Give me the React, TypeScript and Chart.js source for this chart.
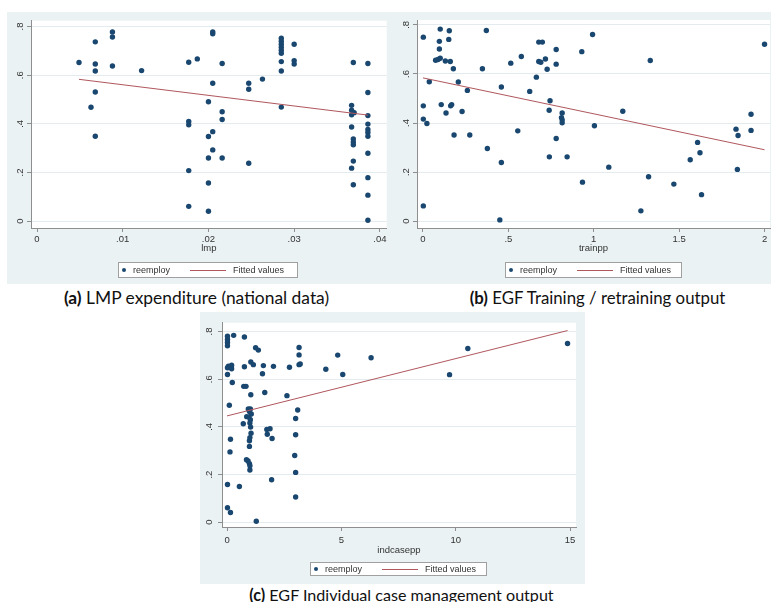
import React, { useEffect, useRef } from "react";
import { Chart, registerables } from "chart.js";

Chart.register(...registerables);

const NAVY = "#1a476f";
const MAROON = "#b0575d";
const BG = "#eaf2f3";
const AXIS = "#8e8e8e";
const GRID = "#e3ebee";
const TEXT = "#333333";
const FONT = "'Liberation Sans', Arial, sans-serif";

// shared y axis (reemploy)
const yTicks = [0, 0.2, 0.4, 0.6, 0.8];
const yTickLabels = ["0", ".2", ".4", ".6", ".8"];
const seriesLabel = "reemploy";
const fitLabel = "Fitted values";

// (a) LMP expenditure
const lmpTicks = [0, 0.01, 0.02, 0.03, 0.04];
const lmpTickLabels = ["0", ".01", ".02", ".03", ".04"];
const lmpX = [
  0.0049, 0.0068, 0.0068, 0.0068, 0.0068, 0.0063, 0.0068, 0.0088, 0.0088, 0.0088,
  0.0122, 0.0177, 0.0187, 0.0177, 0.0177, 0.0177, 0.0177, 0.0205, 0.0205, 0.0216,
  0.0205, 0.02, 0.0216, 0.0216, 0.0205, 0.02, 0.0205, 0.02, 0.0216, 0.02,
  0.02, 0.0247, 0.0247, 0.0247, 0.0263, 0.0285, 0.0285, 0.0285, 0.0285, 0.0285,
  0.0285, 0.0285, 0.0285, 0.0285, 0.03, 0.03, 0.03, 0.0369, 0.0386, 0.0386,
  0.0367, 0.0367, 0.037, 0.0367, 0.0386, 0.0367, 0.0386, 0.0386, 0.0386, 0.0386,
  0.0369, 0.0369, 0.0369, 0.0386, 0.0369, 0.0367, 0.0369, 0.0386, 0.0386, 0.0386,
];
const lmpY = [
  0.652, 0.737, 0.646, 0.617, 0.531, 0.468, 0.349, 0.778, 0.757, 0.638,
  0.619, 0.653, 0.667, 0.41, 0.396, 0.208, 0.061, 0.778, 0.77, 0.648,
  0.567, 0.491, 0.45, 0.418, 0.368, 0.348, 0.293, 0.26, 0.26, 0.157,
  0.041, 0.567, 0.542, 0.238, 0.584, 0.752, 0.74, 0.727, 0.715, 0.703,
  0.69, 0.656, 0.617, 0.469, 0.727, 0.66, 0.646, 0.652, 0.648, 0.529,
  0.476, 0.456, 0.446, 0.437, 0.434, 0.387, 0.399, 0.377, 0.365, 0.349,
  0.338, 0.325, 0.314, 0.279, 0.247, 0.218, 0.15, 0.179, 0.107, 0.004,
];
const lmpFitX = [0.0049, 0.0386];
const lmpFitY = [0.583, 0.436];

// (b) EGF training / retraining output
const trainTicks = [0, 0.5, 1, 1.5, 2];
const trainTickLabels = ["0", ".5", "1", "1.5", "2"];
const trainX = [
  0.002, 0.002, 0.002, 0.023, 0.002, 0.037, 0.101, 0.096, 0.096, 0.074,
  0.088, 0.101, 0.131, 0.107, 0.135, 0.154, 0.151, 0.16, 0.178, 0.162,
  0.168, 0.182, 0.207, 0.229, 0.26, 0.274, 0.348, 0.371, 0.377, 0.459,
  0.459, 0.45, 0.514, 0.555, 0.576, 0.625, 0.664, 0.678, 0.699, 0.678,
  0.69, 0.717, 0.727, 0.744, 0.739, 0.74, 0.78, 0.78, 0.78, 0.815,
  0.811, 0.815, 0.815, 0.844, 0.93, 0.934, 0.993, 1.004, 1.088, 1.17,
  1.331, 1.321, 1.276, 1.469, 1.565, 1.608, 1.622, 1.631, 1.833, 1.845,
  1.841, 1.921, 1.921, 2.0,
];
const trainY = [
  0.75, 0.47, 0.416, 0.398, 0.062, 0.568, 0.783, 0.733, 0.702, 0.656,
  0.659, 0.664, 0.653, 0.475, 0.441, 0.776, 0.741, 0.651, 0.621, 0.47,
  0.475, 0.351, 0.567, 0.447, 0.533, 0.351, 0.621, 0.777, 0.296, 0.547,
  0.239, 0.005, 0.644, 0.368, 0.671, 0.529, 0.587, 0.73, 0.73, 0.651,
  0.648, 0.661, 0.619, 0.491, 0.452, 0.262, 0.7, 0.64, 0.337, 0.441,
  0.422, 0.413, 0.401, 0.262, 0.691, 0.159, 0.761, 0.389, 0.22, 0.448,
  0.655, 0.181, 0.042, 0.151, 0.25, 0.321, 0.279, 0.108, 0.375, 0.349,
  0.211, 0.436, 0.37, 0.721,
];
const trainFitX = [0.0, 2.0];
const trainFitY = [0.584, 0.291];

// (c) EGF individual case management output
const caseTicks = [0, 5, 10, 15];
const caseTickLabels = ["0", "5", "10", "15"];
const caseX = [
  0.02, 0.02, 0.02, 0.02, 0.29, 0.76, 0.06, 0.2, 0.02, 0.2,
  0.02, 0.23, 0.1, 0.15, 0.13, 0.02, 0.02, 0.15, 0.54, 0.76,
  1.04, 1.15, 1.25, 1.37, 1.59, 1.55, 2.03, 0.73, 0.83, 1.04,
  1.65, 0.93, 1.02, 0.98, 1.06, 0.86, 0.96, 1.02, 0.71, 1.0,
  1.03, 1.05, 1.0, 0.98, 0.98, 1.74, 1.88, 1.76, 1.97, 0.85,
  0.92, 0.98, 1.0, 1.0, 1.95, 1.28, 2.62, 2.73, 3.15, 3.15,
  3.15, 3.2, 3.09, 3.0, 3.0, 2.96, 3.0, 3.0, 4.32, 4.84,
  5.06, 6.3, 9.73, 10.53, 14.89,
];
const caseY = [
  0.78, 0.767, 0.754, 0.74, 0.784, 0.777, 0.655, 0.659, 0.648, 0.644,
  0.62, 0.586, 0.491, 0.348, 0.295, 0.158, 0.061, 0.041, 0.15, 0.652,
  0.672, 0.661, 0.732, 0.722, 0.657, 0.623, 0.654, 0.57, 0.57, 0.535,
  0.544, 0.475, 0.475, 0.464, 0.454, 0.443, 0.441, 0.43, 0.413, 0.416,
  0.399, 0.373, 0.355, 0.342, 0.318, 0.389, 0.392, 0.369, 0.351, 0.262,
  0.257, 0.246, 0.237, 0.219, 0.178, 0.004, 0.531, 0.65, 0.733, 0.702,
  0.661, 0.664, 0.471, 0.435, 0.367, 0.28, 0.209, 0.106, 0.642, 0.701,
  0.62, 0.69, 0.619, 0.729, 0.75,
];
const caseFitX = [0.0, 14.89];
const caseFitY = [0.446, 0.804];

type PanelProps = {
  left: number;
  top: number;
  width: number;
  height: number;
  area: { l: number; t: number; r: number; b: number };
  xMin: number;
  xMax: number;
  yMin: number;
  yMax: number;
  xTicks: number[];
  xTickLabels: string[];
  xTitle: string;
  xs: number[];
  ys: number[];
  fitX: number[];
  fitY: number[];
  yLabelPad: number;
  xLabelPad: number;
  titlePad: number;
  legend: { x: number; y: number; w: number; h: number };
};

const chartBgPlugin = {
  id: "plotBg",
  beforeDraw(chart: any) {
    const { ctx, chartArea } = chart;
    ctx.save();
    ctx.fillStyle = "#ffffff";
    ctx.fillRect(chartArea.left, chartArea.top, chartArea.right - chartArea.left, chartArea.bottom - chartArea.top);
    ctx.restore();
  },
};

const stataLegendPlugin = {
  id: "stataLegend",
  afterDraw(chart: any, _args: any, opts: any) {
    const { ctx } = chart;
    const { x, y, w, h } = opts;
    const ds = chart.data.datasets;
    ctx.save();
    ctx.fillStyle = "#ffffff";
    ctx.fillRect(x, y, w, h);
    ctx.strokeStyle = "#a0a0a0";
    ctx.lineWidth = 1;
    ctx.strokeRect(x + 0.5, y + 0.5, w - 1, h - 1);
    const cy = y + h / 2;
    ctx.fillStyle = ds[0].backgroundColor;
    ctx.beginPath();
    ctx.arc(x + 6, cy, 2, 0, Math.PI * 2);
    ctx.fill();
    ctx.font = `9px ${FONT}`;
    ctx.fillStyle = TEXT;
    ctx.textBaseline = "middle";
    ctx.textAlign = "left";
    ctx.fillText(ds[0].label, x + 15, cy + 0.5);
    ctx.strokeStyle = ds[1].borderColor;
    ctx.beginPath();
    ctx.moveTo(x + 72, Math.round(cy) + 0.5);
    ctx.lineTo(x + 108, Math.round(cy) + 0.5);
    ctx.stroke();
    ctx.fillText(ds[1].label, x + 115, cy + 0.5);
    ctx.restore();
  },
};

function Panel(p: PanelProps) {
  const ref = useRef<HTMLCanvasElement>(null);
  useEffect(() => {
    const yw = 20;
    const tickFont = { family: FONT, size: 9.5 };
    const chart = new Chart(ref.current as HTMLCanvasElement, {
      type: "scatter",
      data: {
        datasets: [
          {
            label: seriesLabel,
            data: p.xs.map((x, i) => ({ x, y: p.ys[i] })),
            backgroundColor: NAVY,
            borderColor: NAVY,
            pointRadius: 2.7,
            pointBorderWidth: 0,
            order: 1,
          },
          {
            label: fitLabel,
            data: p.fitX.map((x, i) => ({ x, y: p.fitY[i] })),
            showLine: true,
            borderColor: MAROON,
            backgroundColor: MAROON,
            borderWidth: 1,
            pointRadius: 0,
            order: 0,
          },
        ],
      } as any,
      options: {
        responsive: false,
        animation: false,
        devicePixelRatio: 1,
        layout: {
          autoPadding: false,
          padding: { left: p.area.l - yw, top: p.area.t, right: p.width - p.area.r, bottom: 0 },
        },
        plugins: {
          legend: { display: false },
          tooltip: { enabled: false },
          stataLegend: p.legend,
        } as any,
        scales: {
          x: {
            type: "linear",
            position: "bottom",
            min: p.xMin,
            max: p.xMax,
            afterBuildTicks: (s: any) => {
              s.ticks = p.xTicks.map((v) => ({ value: v }));
            },
            afterFit: (s: any) => {
              s.height = p.height - p.area.b;
            },
            ticks: {
              autoSkip: false,
              maxRotation: 0,
              minRotation: 0,
              padding: p.xLabelPad,
              font: tickFont,
              color: TEXT,
              callback: (v: any) => p.xTickLabels[p.xTicks.indexOf(v)],
            },
            grid: { drawOnChartArea: false, drawTicks: true, tickLength: 4, tickColor: AXIS, lineWidth: 1 },
            border: { display: true, color: AXIS, width: 1 },
            title: {
              display: true,
              text: p.xTitle,
              font: tickFont,
              color: TEXT,
              padding: { top: 0, bottom: p.titlePad },
            },
          },
          y: {
            type: "linear",
            min: p.yMin,
            max: p.yMax,
            afterBuildTicks: (s: any) => {
              s.ticks = yTicks.map((v) => ({ value: v }));
            },
            afterFit: (s: any) => {
              s.width = yw;
            },
            ticks: {
              autoSkip: false,
              minRotation: 90,
              maxRotation: 90,
              crossAlign: "center",
              padding: p.yLabelPad,
              font: tickFont,
              color: TEXT,
              callback: (v: any) => yTickLabels[yTicks.indexOf(v)],
            },
            grid: { color: GRID, tickLength: 4, tickColor: AXIS, lineWidth: 1 },
            border: { display: true, color: AXIS, width: 1 },
          },
        },
      } as any,
      plugins: [chartBgPlugin, stataLegendPlugin],
    });
    return () => chart.destroy();
  }, []);
  return (
    <div
      style={{
        position: "absolute",
        left: p.left,
        top: p.top,
        width: p.width,
        height: p.height,
        background: BG,
      }}
    >
      <canvas ref={ref} width={p.width} height={p.height} style={{ display: "block" }} />
    </div>
  );
}

function Caption({ cx, top, size, tag, text }: { cx: number; top: number; size: number; tag: string; text: string }) {
  return (
    <div
      style={{
        position: "absolute",
        left: cx - 250,
        top,
        width: 500,
        textAlign: "center",
        fontFamily: "Lato, 'Open Sans', sans-serif",
        fontSize: size,
        lineHeight: "20px",
        color: "#111",
        whiteSpace: "nowrap",
      }}
    >
      <b>{tag}</b> {text}
    </div>
  );
}

export default function App() {
  return (
    <div
      style={{
        position: "absolute",
        left: 0,
        top: 0,
        width: 771,
        height: 602,
        background: "#ffffff",
        overflow: "hidden",
      }}
    >
      <Panel
        left={7}
        top={12}
        width={381}
        height={272}
        area={{ l: 24, t: 6, r: 381, b: 216 }}
        xMin={-0.0007}
        xMax={0.0408}
        yMin={-0.028}
        yMax={0.824}
        xTicks={lmpTicks}
        xTickLabels={lmpTickLabels}
        xTitle="lmp"
        xs={lmpX}
        ys={lmpY}
        fitX={lmpFitX}
        fitY={lmpFitY}
        yLabelPad={3}
        xLabelPad={1.5}
        titlePad={30}
        legend={{ x: 111, y: 250, w: 180, h: 16 }}
      />
      <Panel
        left={388}
        top={12}
        width={383}
        height={272}
        area={{ l: 29, t: 6, r: 382, b: 216 }}
        xMin={-0.035}
        xMax={2.032}
        yMin={-0.028}
        yMax={0.82}
        xTicks={trainTicks}
        xTickLabels={trainTickLabels}
        xTitle="trainpp"
        xs={trainX}
        ys={trainY}
        fitX={trainFitX}
        fitY={trainFitY}
        yLabelPad={2.3}
        xLabelPad={1.5}
        titlePad={30}
        legend={{ x: 117, y: 250, w: 177, h: 16 }}
      />
      <Panel
        left={200}
        top={312}
        width={385}
        height={272}
        area={{ l: 22, t: 5, r: 376, b: 215 }}
        xMin={-0.22}
        xMax={15.26}
        yMin={-0.02}
        yMax={0.837}
        xTicks={caseTicks}
        xTickLabels={caseTickLabels}
        xTitle="indcasepp"
        xs={caseX}
        ys={caseY}
        fitX={caseFitX}
        fitY={caseFitY}
        yLabelPad={5}
        xLabelPad={3.3}
        titlePad={28}
        legend={{ x: 110, y: 250, w: 177, h: 14 }}
      />
      <Caption cx={196.5} top={288} size={17.4} tag="(a)" text="LMP expenditure (national data)" />
      <Caption cx={597.5} top={288} size={16.8} tag="(b)" text="EGF Training / retraining output" />
      <Caption cx={401.5} top={585} size={16.1} tag="(c)" text="EGF Individual case management output" />
    </div>
  );
}
